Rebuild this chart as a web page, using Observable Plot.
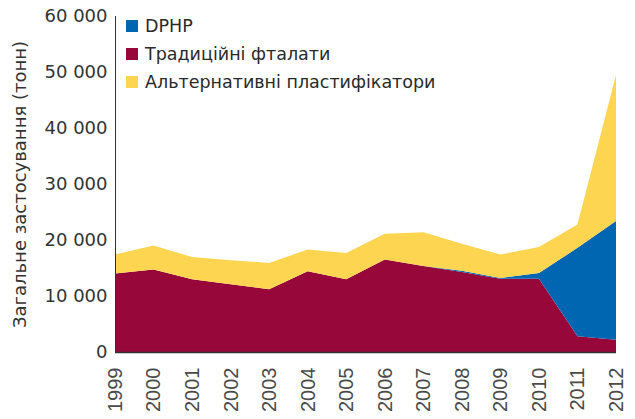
<!DOCTYPE html>
<html>
<head>
<meta charset="utf-8">
<script src="https://cdn.jsdelivr.net/npm/d3@7"></script>
<script src="https://cdn.jsdelivr.net/npm/@observablehq/plot@0.6"></script>
<style>
  html, body { margin: 0; padding: 0; background: #fff; }
  #wrap { position: relative; width: 635px; height: 419px; overflow: hidden; }
  #legend { position: absolute; left: 126px; top: 20px; font-family: "DejaVu Sans", sans-serif; font-size: 17.5px; color: #2a2a2a; }
  .row { display: flex; align-items: center; height: 12px; margin-bottom: 16px; white-space: nowrap; }
  .sw { width: 12px; height: 12px; margin-right: 7px; flex: none; }
  g[aria-label="y-axis tick label"] text { font-family: "DejaVu Sans", sans-serif; font-size: 18px; fill: #333; }
  g[aria-label="x-axis tick label"] text { font-family: "Liberation Sans", Arial, sans-serif; font-size: 20px; fill: #4a4a4a; }
  g.ylab text { font-family: "DejaVu Sans", sans-serif; font-size: 18px; fill: #333; }
</style>
</head>
<body>
<div id="wrap"><div id="legend"></div></div>
<script>
const years = [1999, 2000, 2001, 2002, 2003, 2004, 2005, 2006, 2007, 2008, 2009, 2010, 2011, 2012];
const phthalates = [14000, 14750, 13000, 12100, 11200, 14400, 13000, 16500, 15350, 14300, 13100, 13100, 2800, 2200];
const dphp = [0, 0, 0, 0, 0, 0, 0, 0, 0, 200, 100, 1000, 15800, 21200];
const alternative = [3400, 4250, 3950, 4300, 4700, 3900, 4700, 4600, 6050, 4850, 4200, 4650, 4150, 26050];

const seriesNames = ["DPHP", "Традиційні фталати", "Альтернативні пластифікатори"];
const seriesColors = ["#0066b2", "#98073a", "#fed551"];
const stackOrder = ["Традиційні фталати", "DPHP", "Альтернативні пластифікатори"];
const yTicks = [0, 10000, 20000, 30000, 40000, 50000, 60000];
const yLabel = "Загальне застосування (тонн)";

const valuesBySeries = {
  "Традиційні фталати": phthalates,
  "DPHP": dphp,
  "Альтернативні пластифікатори": alternative
};
const data = years.flatMap((year, i) =>
  stackOrder.map(s => ({ year, series: s, value: valuesBySeries[s][i] }))
);

const fmt = d => d3.format(",")(d).replace(/,/g, " ");

const chart = Plot.plot({
  width: 635,
  height: 419,
  marginLeft: 115,
  marginRight: 19,
  marginTop: 16,
  marginBottom: 67,
  style: { fontFamily: "DejaVu Sans, sans-serif", fontSize: "18px", color: "#333", background: "#fff" },
  x: { type: "linear", domain: [1999, 2012] },
  y: { domain: [0, 60000] },
  color: { domain: seriesNames, range: seriesColors },
  marks: [
    Plot.areaY(data, { x: "year", y: "value", fill: "series", order: stackOrder }),
    Plot.axisX({ ticks: years, tickFormat: d => String(d), tickRotate: -90, tickSize: 0, tickPadding: 15, label: null }),
    Plot.axisY({ ticks: yTicks, tickFormat: fmt, tickSize: 0, tickPadding: 8, label: null }),
    Plot.ruleX([1999], { stroke: "#333", strokeWidth: 1 }),
    Plot.ruleY([0], { stroke: "#333", strokeWidth: 1.5 }),
    Plot.text([yLabel], { frameAnchor: "left", textAnchor: "middle", lineAnchor: "middle", dx: -95, rotate: -90, className: "ylab" })
  ]
});

document.getElementById("wrap").prepend(chart);

const legend = document.getElementById("legend");
seriesNames.forEach((name, i) => {
  const row = document.createElement("div");
  row.className = "row";
  const sw = document.createElement("span");
  sw.className = "sw";
  sw.style.background = seriesColors[i];
  const t = document.createElement("span");
  t.textContent = name;
  row.append(sw, t);
  legend.append(row);
});
</script>
</body>
</html>
